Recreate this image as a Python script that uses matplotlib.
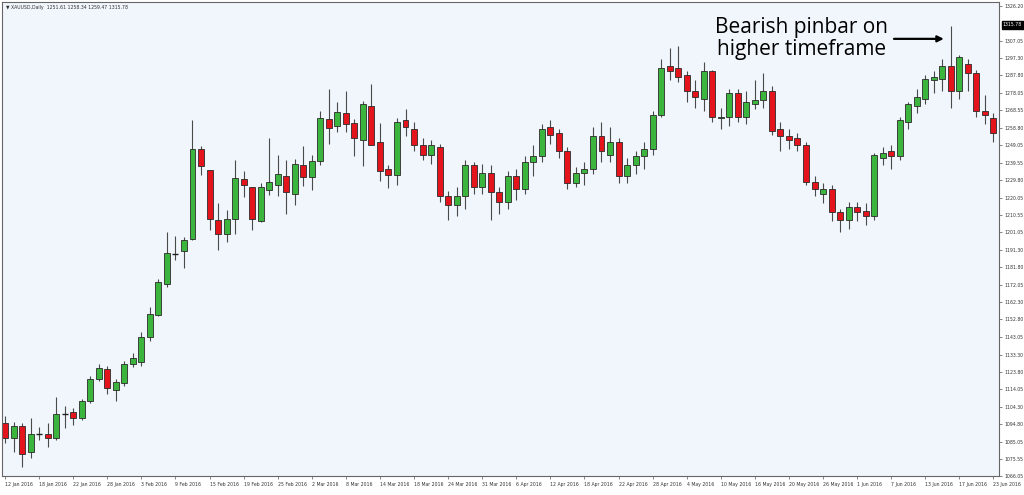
import matplotlib
matplotlib.use("Agg")
import matplotlib.pyplot as plt
import matplotlib.transforms as mtransforms
import numpy as np

# XAUUSD daily bars, 12 Jan 2016 .. 23 Jun 2016
DATES = [
    "12 Jan", "13 Jan", "14 Jan", "15 Jan", "18 Jan", "19 Jan", "20 Jan", "21 Jan", "22 Jan",
    "25 Jan", "26 Jan", "27 Jan", "28 Jan", "29 Jan", "1 Feb", "2 Feb", "3 Feb", "4 Feb",
    "5 Feb", "8 Feb", "9 Feb", "10 Feb", "11 Feb", "12 Feb", "15 Feb", "16 Feb", "17 Feb",
    "18 Feb", "19 Feb", "22 Feb", "23 Feb", "24 Feb", "25 Feb", "26 Feb", "29 Feb", "1 Mar",
    "2 Mar", "3 Mar", "4 Mar", "7 Mar", "8 Mar", "9 Mar", "10 Mar", "11 Mar", "14 Mar",
    "15 Mar", "16 Mar", "17 Mar", "18 Mar", "21 Mar", "22 Mar", "23 Mar", "24 Mar", "28 Mar",
    "29 Mar", "30 Mar", "31 Mar", "1 Apr", "4 Apr", "5 Apr", "6 Apr", "7 Apr", "8 Apr",
    "11 Apr", "12 Apr", "13 Apr", "14 Apr", "15 Apr", "18 Apr", "19 Apr", "20 Apr", "21 Apr",
    "22 Apr", "25 Apr", "26 Apr", "27 Apr", "28 Apr", "29 Apr", "2 May", "3 May", "4 May",
    "5 May", "6 May", "9 May", "10 May", "11 May", "12 May", "13 May", "16 May", "17 May",
    "18 May", "19 May", "20 May", "23 May", "24 May", "25 May", "26 May", "27 May", "30 May",
    "31 May", "1 Jun", "2 Jun", "3 Jun", "6 Jun", "7 Jun", "8 Jun", "9 Jun", "10 Jun",
    "13 Jun", "14 Jun", "15 Jun", "16 Jun", "17 Jun", "20 Jun", "21 Jun", "22 Jun", "23 Jun",
]

OPEN = [
    1095.3, 1087.0, 1093.6, 1079.4, 1089.2, 1089.2, 1087.0, 1100.7, 1101.3, 1098.0,
    1107.8, 1119.9, 1125.4, 1113.9, 1117.7, 1128.1, 1129.2, 1142.9, 1155.5, 1172.4,
    1188.8, 1190.5, 1197.1, 1246.9, 1235.4, 1208.0, 1200.3, 1208.5, 1230.4, 1226.1,
    1207.5, 1224.4, 1227.2, 1232.1, 1222.2, 1238.1, 1231.5, 1240.3, 1263.8, 1260.0,
    1267.1, 1261.6, 1252.3, 1270.9, 1250.7, 1235.9, 1232.6, 1263.0, 1258.0, 1249.0,
    1244.0, 1248.0, 1221.0, 1216.0, 1221.0, 1238.0, 1226.0, 1234.0, 1223.0, 1218.0,
    1232.0, 1225.0, 1240.0, 1243.0, 1259.0, 1256.0, 1246.0, 1228.0, 1234.0, 1236.0,
    1254.0, 1244.0, 1251.0, 1232.0, 1238.0, 1243.0, 1247.0, 1266.0, 1293.0, 1292.0,
    1288.0, 1279.0, 1275.0, 1290.0, 1264.0, 1265.0, 1278.0, 1265.0, 1272.0, 1274.0,
    1279.0, 1258.0, 1254.0, 1253.0, 1249.0, 1229.0, 1222.0, 1225.0, 1212.0, 1208.0,
    1215.0, 1213.0, 1210.0, 1242.0, 1246.0, 1243.0, 1262.0, 1271.0, 1275.0, 1285.0,
    1286.0, 1293.0, 1279.0, 1294.0, 1289.0, 1268.0, 1264.0,
]
HIGH = [
    1099.6, 1095.8, 1095.3, 1098.0, 1093.1, 1095.3, 1110.0, 1105.1, 1103.5, 1108.9,
    1121.5, 1128.1, 1127.0, 1120.0, 1129.7, 1134.1, 1145.6, 1159.8, 1175.2, 1200.9,
    1199.2, 1198.2, 1263.3, 1248.5, 1235.4, 1217.3, 1213.5, 1240.8, 1234.8, 1226.1,
    1228.3, 1253.4, 1243.6, 1240.8, 1241.4, 1248.5, 1243.6, 1268.2, 1280.2, 1273.1,
    1279.1, 1263.8, 1273.7, 1283.0, 1261.6, 1238.1, 1264.4, 1269.0, 1262.0, 1253.0,
    1252.0, 1250.0, 1224.0, 1226.0, 1241.0, 1240.0, 1239.0, 1238.0, 1226.0, 1235.0,
    1236.0, 1243.0, 1249.0, 1261.0, 1263.0, 1258.0, 1248.0, 1237.0, 1240.0, 1259.0,
    1262.0, 1259.0, 1253.0, 1242.0, 1246.0, 1251.0, 1268.0, 1297.0, 1303.0, 1304.0,
    1290.0, 1285.0, 1295.0, 1291.0, 1270.0, 1280.0, 1280.0, 1279.0, 1285.0, 1289.0,
    1282.0, 1262.0, 1258.0, 1256.0, 1251.0, 1232.0, 1228.0, 1227.0, 1214.0, 1218.0,
    1218.0, 1217.0, 1245.0, 1248.0, 1249.0, 1265.0, 1273.0, 1280.0, 1288.0, 1290.0,
    1297.0, 1315.0, 1299.0, 1297.0, 1291.0, 1277.0, 1267.0,
]
LOW = [
    1084.3, 1079.4, 1071.2, 1076.1, 1085.9, 1082.1, 1085.9, 1092.5, 1094.2, 1097.4,
    1106.7, 1118.8, 1111.7, 1107.8, 1116.0, 1126.5, 1127.0, 1140.7, 1154.4, 1170.8,
    1185.6, 1181.2, 1196.5, 1232.6, 1202.0, 1191.0, 1195.4, 1200.3, 1220.6, 1202.0,
    1206.9, 1221.7, 1221.1, 1211.3, 1216.2, 1226.6, 1224.4, 1238.1, 1250.1, 1256.7,
    1256.7, 1243.0, 1237.6, 1249.0, 1229.3, 1225.5, 1227.2, 1254.0, 1246.0, 1241.0,
    1239.0, 1218.0, 1208.0, 1210.0, 1214.0, 1222.0, 1222.0, 1208.0, 1211.0, 1214.0,
    1219.0, 1222.0, 1232.0, 1240.0, 1250.0, 1242.0, 1225.0, 1226.0, 1227.0, 1233.0,
    1240.0, 1240.0, 1228.0, 1228.0, 1233.0, 1236.0, 1244.0, 1265.0, 1285.0, 1284.0,
    1273.0, 1270.0, 1268.0, 1262.0, 1258.0, 1260.0, 1262.0, 1261.0, 1269.0, 1270.0,
    1255.0, 1246.0, 1247.0, 1246.0, 1227.0, 1221.0, 1217.0, 1207.0, 1201.0, 1203.0,
    1207.0, 1205.0, 1208.0, 1238.0, 1236.0, 1241.0, 1258.0, 1267.0, 1272.0, 1278.0,
    1279.0, 1270.0, 1275.0, 1279.0, 1265.0, 1261.0, 1251.0,
]
CLOSE = [
    1087.0, 1093.6, 1078.3, 1089.2, 1089.5, 1087.0, 1100.7, 1100.3, 1098.0, 1107.8,
    1119.9, 1126.0, 1115.0, 1118.2, 1128.1, 1131.4, 1142.9, 1156.0, 1173.5, 1189.4,
    1189.2, 1196.5, 1246.9, 1237.6, 1208.5, 1200.3, 1208.5, 1231.0, 1227.2, 1208.5,
    1226.1, 1228.8, 1233.2, 1223.3, 1238.6, 1231.5, 1240.3, 1264.4, 1258.9, 1267.7,
    1261.1, 1253.4, 1272.0, 1249.0, 1234.8, 1232.6, 1262.2, 1259.0, 1249.0, 1244.0,
    1249.0, 1221.0, 1216.0, 1221.0, 1238.0, 1226.0, 1234.0, 1223.0, 1218.0, 1232.0,
    1225.0, 1240.0, 1243.0, 1258.0, 1255.0, 1246.0, 1228.0, 1234.0, 1236.0, 1254.0,
    1246.0, 1251.0, 1232.0, 1238.0, 1243.0, 1247.0, 1266.0, 1292.0, 1290.0, 1287.0,
    1279.0, 1276.0, 1290.0, 1265.0, 1265.0, 1278.0, 1265.0, 1273.0, 1274.0, 1279.0,
    1257.0, 1254.0, 1252.0, 1249.0, 1229.0, 1225.0, 1225.0, 1212.0, 1208.0, 1215.0,
    1212.0, 1210.0, 1244.0, 1245.0, 1243.0, 1263.0, 1272.0, 1276.0, 1286.0, 1287.0,
    1293.0, 1279.0, 1298.0, 1289.0, 1268.0, 1266.0, 1256.0,
]

PRICE_TICKS = [1326.20, 1307.05, 1297.30, 1287.80, 1278.05, 1268.55, 1258.80, 1249.05,
               1239.55, 1229.80, 1220.05, 1210.55, 1201.05, 1191.30, 1181.80, 1172.05,
               1162.30, 1152.80, 1143.05, 1133.30, 1123.80, 1114.05, 1104.30, 1094.80,
               1085.05, 1075.55, 1066.05]
LAST_PRICE = 1315.78
HEADER = "XAUUSD,Daily  1251.61 1258.34 1259.47 1315.78"
NOTE = "Bearish pinbar on\nhigher timeframe"
PINBAR_DATE = "16 Jun"

UP, DOWN = "#3cb53f", "#e3141b"
BG = "#f0f6fc"
SMALL = 3.3

o, h, l, c = map(np.array, (OPEN, HIGH, LOW, CLOSE))
n = len(o)
x = np.arange(n)

fig = plt.figure(figsize=(10.24, 4.95), dpi=100)
ax = fig.add_axes([0.002, 0.038, 0.974, 0.958])
ax.set_facecolor(BG)

up = c > o
doji = np.abs(c - o) < 0.6
colors = np.where(up, UP, DOWN)

ax.vlines(x, l, h, color="#4a4a4a", lw=0.8, zorder=1)
body_lo = np.minimum(o, c)
body_h = np.abs(c - o)
ax.bar(x[~doji], body_h[~doji], bottom=body_lo[~doji], width=0.7,
       color=colors[~doji], edgecolor="#2b2b2b", linewidth=0.6, zorder=2)
ax.hlines(c[doji], x[doji] - 0.35, x[doji] + 0.35, color="#222222", lw=1.0, zorder=2)

ax.set_xlim(-0.35, n - 1 + 0.7)
ax.set_ylim(1066.05, 1328.4)

# right price axis
ax.yaxis.tick_right()
ax.set_yticks(PRICE_TICKS)
ax.set_yticklabels([f"{v:.2f}" for v in PRICE_TICKS], fontsize=SMALL, color="#333333")
ax.tick_params(axis="y", length=2, width=0.5, pad=1.5, colors="#555555", labelcolor="#333333")
price_tr = mtransforms.blended_transform_factory(ax.transAxes, ax.transData)
ax.text(1.0035, LAST_PRICE, f"{LAST_PRICE:.2f}", transform=price_tr,
        fontsize=SMALL, color="white", va="center", ha="left",
        bbox=dict(boxstyle="square,pad=0.3", fc="black", ec="black"))

# bottom date axis, one label every 4 bars
tick_idx = list(range(0, n, 4))
ax.set_xticks(tick_idx)
ax.set_xticklabels([f"{DATES[i]} 2016" for i in tick_idx], fontsize=SMALL, ha="left")
ax.tick_params(axis="x", length=2.5, width=0.5, pad=1.5, colors="#555555", labelcolor="#333333")

for sp in ax.spines.values():
    sp.set_color("#666666")
    sp.set_linewidth(0.8)

ax.text(0.004, 0.993, "\u25bc " + HEADER, transform=ax.transAxes, fontsize=SMALL,
        color="#333333", va="top", ha="left")

# annotation
pin = DATES.index(PINBAR_DATE)
ax.annotate("", xy=(pin - 0.5, 1308.0), xytext=(pin - 7.0, 1308.0),
            arrowprops=dict(arrowstyle="-|>", color="black", lw=1.6, mutation_scale=9))
ax.text(pin - 17.5, 1308.3, NOTE, fontsize=15, family=["Open Sans", "DejaVu Sans"],
        ha="center", va="center", linespacing=1.05, color="black")

fig.savefig("out.png", dpi=100, facecolor="white")
